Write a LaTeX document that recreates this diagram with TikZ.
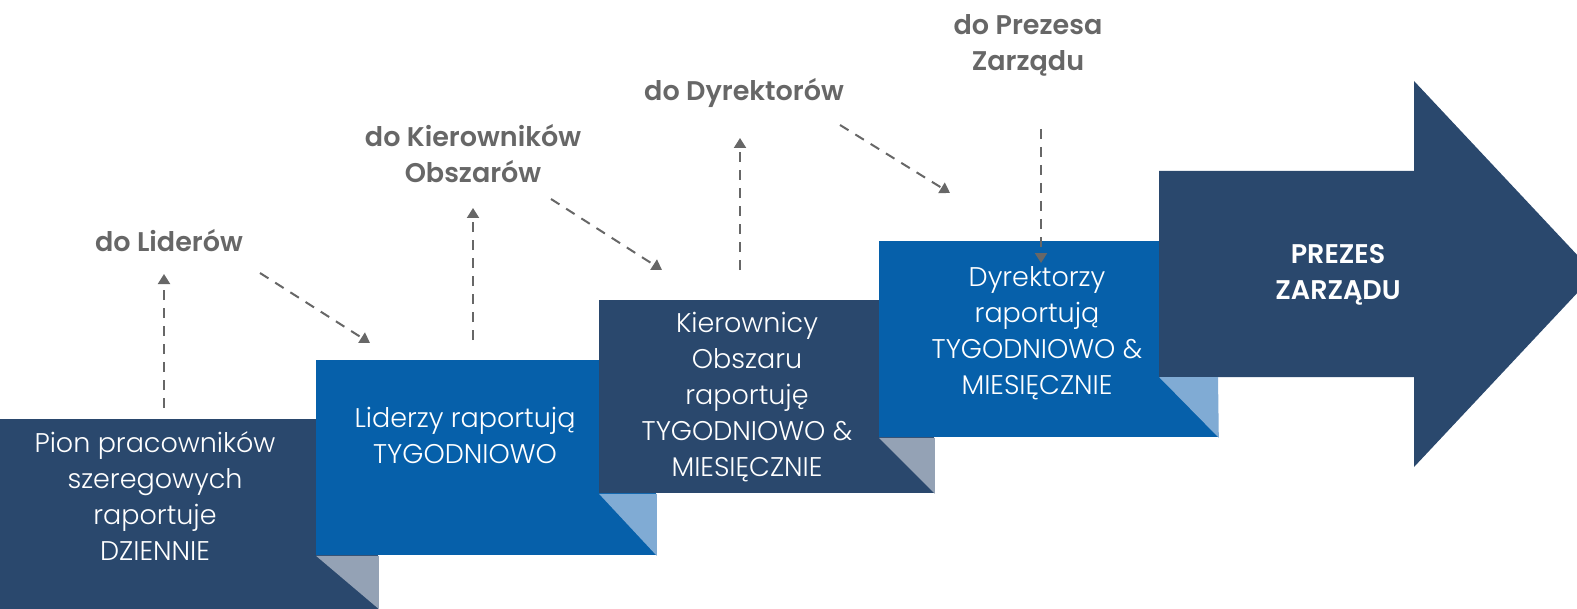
\documentclass[tikz,border=0pt]{standalone}
\usepackage{fontspec}
\newfontfamily\boxfont{Poppins Light}
\newfontfamily\tagfont{Poppins SemiBold}
\usetikzlibrary{arrows.meta}
\definecolor{navy}{HTML}{2A486D}
\definecolor{royal}{HTML}{0660AA}
\definecolor{foldblue}{HTML}{80ABD4}
\definecolor{foldgrey}{HTML}{94A2B5}
\definecolor{tagcol}{HTML}{676767}

\begin{document}
\begin{tikzpicture}[x=0.5pt,y=-0.5pt]


\tikzset{stepbox/.style={rectangle,anchor=north west,inner sep=0pt,fill=#1,minimum width=170pt,minimum height=97.5pt},}
\tikzset{boxtext/.style={text=white,align=center,inner sep=0pt,font=\boxfont\fontsize{13.5}{18}\selectfont},}
\tikzset{tagtext/.style={text=tagcol,align=center,inner sep=0pt,font=\tagfont\fontsize{13.5}{18}\selectfont},}
\tikzset{dashline/.style={draw=tagcol,line width=1pt,dash pattern=on 5pt off 4pt,-{Triangle[width=6pt,length=5pt]}},}

	\useasboundingbox (0,0) rectangle (1577,609);

	% steps
	\node[stepbox=navy,minimum width=189pt,minimum height=100pt] (b1) at (0,419) {};
	\node[stepbox=royal] (b2) at (316,360) {};
	\fill[foldgrey] (b2.south west) -- (b1.east |- b2.south) -- (b1.east |- 0,609) -- cycle;
	\node[stepbox=navy,minimum width=167.5pt,minimum height=96.5pt] (b3) at (599,300) {};
	\fill[foldblue] (b3.south west) -- (b2.east |- b3.south) -- (b2.south east) -- cycle;
	\node[stepbox=royal,minimum width=169.5pt,minimum height=98pt] (b4) at (879,241) {};
	\fill[foldgrey] (b4.south west) -- (b3.east |- b4.south) -- (b3.south east) -- cycle;
	\fill[navy] (1159,171) -- (1414,171) -- (1414,81) -- (1595,274) -- (1414,467) -- (1414,377) -- (1159,377) -- cycle;
	\fill[foldblue] (1159,377) -- (1218,377) -- (b4.south east) -- cycle;

	\draw
		(155,496) node[boxtext] (t1) {Pion pracowników\\szeregowych\\raportuje\\DZIENNIE}
		(465,435) node[boxtext] (t2) {Liderzy raportują\\TYGODNIOWO}
		(747,397) node[boxtext] (t3) {Kierownicy\\Obszaru\\raportuję\\TYGODNIOWO \&\\MIESIĘCZNIE}
		(1037,333) node[boxtext] (t4) {Dyrektorzy\\raportują\\TYGODNIOWO \&\\MIESIĘCZNIE}
		(1338,275) node[tagtext,text=white] (t5) {PREZES\\ZARZĄDU};

	\draw
		(169,241) node[tagtext] (g1) {do Liderów}
		(473,154) node[tagtext] (g2) {do Kierowników\\Obszarów}
		(744,93) node[tagtext] (g3) {do Dyrektorów}
		(1028,45) node[tagtext] (g4) {do Prezesa\\Zarządu};

	% dashed links
	\coordinate (u1) at (164,408); \coordinate (v1) at (164,274);
	\coordinate (u2) at (260,273); \coordinate (v2) at (370,343);
	\coordinate (u3) at (473,340); \coordinate (v3) at (473,208);
	\coordinate (u4) at (551,199); \coordinate (v4) at (662,270);
	\coordinate (u5) at (740,270); \coordinate (v5) at (740,138);
	\coordinate (u6) at (840,125); \coordinate (v6) at (950,193);
	\coordinate (u7) at (1041,129); \coordinate (v7) at (1041,263);

	\draw[dashline] (u1) -- (v1);
	\draw[dashline] (u2) -- (v2);
	\draw[dashline] (u3) -- (v3);
	\draw[dashline] (u4) -- (v4);
	\draw[dashline] (u5) -- (v5);
	\draw[dashline] (u6) -- (v6);
	\draw[dashline] (u7) -- (v7);

\end{tikzpicture}
\end{document}
